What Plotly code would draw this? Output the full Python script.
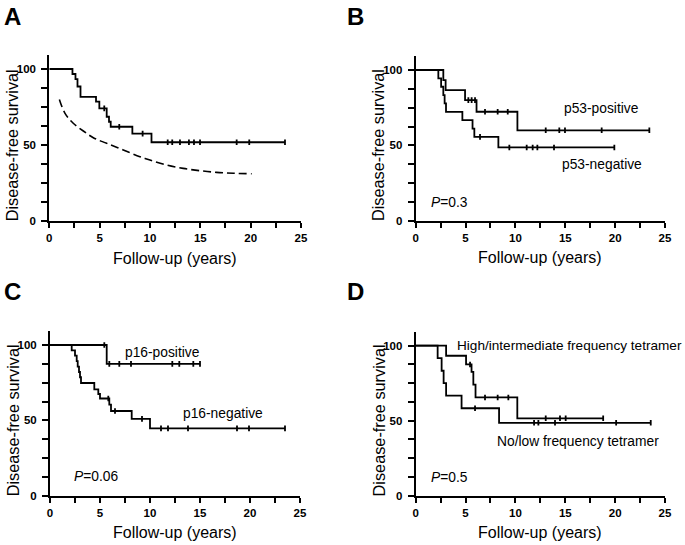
import plotly.graph_objects as go

W, H = 685, 545

# ---------------- data ----------------
# Panel A: overall disease-free survival
A_event_t = [2.3, 2.6, 2.8, 3.1, 4.64, 4.97, 5.7, 5.93, 6.1, 8.25, 10.15]
A_event_s = [96.7, 93.3, 88.5, 81.7, 78.5, 74.1, 68.6, 65.3, 62.0, 57.5, 51.8]
A_cens_t = [5.46, 6.95, 9.27, 11.76, 12.21, 12.98, 13.87, 14.37, 14.97, 18.61, 19.86, 23.41]
A_ref_t = [1.0, 1.56, 2.38, 3.38, 4.37, 5.7, 7.35, 9.0, 10.0, 11.66, 13.3, 14.97, 16.6, 18.3, 20.1]
A_ref_s = [80.0, 70.8, 64.3, 59.2, 54.8, 51.1, 46.7, 42.3, 40.1, 36.8, 34.6, 33.1, 32.0, 31.4, 31.1]

# Panel B: p53
B_pos_t = [2.77, 3.0, 4.95, 6.1, 10.2]
B_pos_s = [93.3, 86.7, 80.0, 72.3, 60.0]
B_pos_c = [5.28, 5.61, 5.95, 6.95, 8.22, 9.23, 13.04, 14.4, 14.97, 18.65, 23.43]
B_neg_t = [2.27, 2.55, 2.77, 2.9, 3.04, 4.68, 5.7, 5.88, 8.29]
B_neg_s = [94.4, 88.9, 83.3, 77.8, 72.2, 66.7, 61.1, 55.6, 48.6]
B_neg_c = [6.45, 9.39, 11.13, 11.73, 12.2, 13.87, 19.92]

# Panel C: p16
C_pos_t = [5.67]
C_pos_s = [87.5]
C_pos_c = [5.43, 5.93, 6.93, 8.1, 12.23, 12.93, 14.33, 15.0]
C_neg_t = [2.17, 2.5, 2.67, 2.77, 2.9, 3.0, 3.1, 4.43, 4.83, 5.0, 5.93, 6.1, 8.17, 10.0]
C_neg_s = [96.4, 92.9, 89.3, 85.7, 82.1, 78.6, 74.8, 70.5, 67.5, 64.5, 60.5, 56.2, 51.0, 44.7]
C_neg_c = [5.83, 6.5, 9.2, 11.1, 11.8, 13.8, 18.7, 19.9, 23.5]

# Panel D: tetramer frequency
D_hi_t = [3.05, 5.05, 5.6, 5.78, 6.0, 10.19]
D_hi_s = [93.3, 87.5, 82.5, 74.0, 65.5, 51.6]
D_hi_c = [5.45, 6.95, 8.22, 9.29, 13.04, 14.47, 15.04, 18.8]
D_lo_t = [2.2, 2.6, 2.8, 3.05, 4.6, 8.36]
D_lo_s = [91.7, 83.3, 75.0, 66.7, 58.3, 48.6]
D_lo_c = [5.95, 11.87, 12.3, 13.97, 20.1, 23.57]

x_ticks = [0, 5, 10, 15, 20, 25]
y_ticks = [0, 50, 100]

# ---------------- layout helpers ----------------
FONT = "Liberation Sans, Arial, Helvetica, sans-serif"

# pixel geometry of each panel: x of 0 yr, x of 25 yr, y of 0 %, px per %
panels = {
    "A": dict(x0=49.3, x25=301.0, y0=221.0, k=1.52),
    "B": dict(x0=415.7, x25=665.0, y0=220.7, k=1.507),
    "C": dict(x0=50.0, x25=300.0, y0=495.7, k=1.507),
    "D": dict(x0=415.7, x25=665.0, y0=495.7, k=1.50),
}
YMAX = 109


def px(x):
    return x / W


def py(y):
    return (H - y) / H


fig = go.Figure()


def km(t, s, c):
    xs = [0] + list(t)
    ys = [100] + list(s)
    end = max(list(t) + list(c))
    xs.append(end)
    ys.append(ys[-1])

    def surv(at):
        v = 100
        for tt, ss in zip(t, s):
            if tt <= at:
                v = ss
        return v

    cy = [surv(ct) for ct in c]
    return xs, ys, list(c), cy


def add_km(t, s, c, xa, ya):
    xs, ys, cx, cy = km(t, s, c)
    fig.add_trace(go.Scatter(x=xs, y=ys, mode="lines", line=dict(color="black", width=1.8, shape="hv"),
                             xaxis=xa, yaxis=ya, showlegend=False, hoverinfo="skip"))
    fig.add_trace(go.Scatter(x=cx, y=cy, mode="markers",
                             marker=dict(symbol="line-ns", size=4, line=dict(color="black", width=1.8)),
                             xaxis=xa, yaxis=ya, showlegend=False, hoverinfo="skip"))


names = ["A", "B", "C", "D"]
axis_common = dict(showline=True, linewidth=2, linecolor="black", showgrid=False, zeroline=False,
                   automargin=False, fixedrange=True,
                   ticks="outside", ticklen=5, tickwidth=2, tickcolor="black",
                   tickfont=dict(family=FONT, size=11.5, color="black", weight="bold"))
layout = {}
for i, n in enumerate(names):
    p = panels[n]
    sfx = "" if i == 0 else str(i + 1)
    top = p["y0"] - YMAX * p["k"]
    layout["xaxis" + sfx] = dict(axis_common, domain=[px(p["x0"]), px(p["x25"])], range=[0, 25],
                                 anchor="y" + sfx, tickvals=x_ticks,
                                 minor=dict(dtick=2.5, ticks="outside", ticklen=5, tickwidth=2, tickcolor="black"))
    layout["yaxis" + sfx] = dict(axis_common, domain=[py(p["y0"]), py(top)], range=[0, YMAX],
                                 anchor="x" + sfx, tickvals=y_ticks, ticklen=6, ticklabelstandoff=3,
                                 minor=dict(tickvals=[12.5, 25, 37.5, 62.5, 75, 87.5], ticks="outside",
                                            ticklen=6, tickwidth=2, tickcolor="black"))

# traces
add_km(A_event_t, A_event_s, A_cens_t, "x", "y")
fig.add_trace(go.Scatter(x=A_ref_t, y=A_ref_s, mode="lines",
                         line=dict(color="black", width=1.6, dash="8px,4px", shape="spline"),
                         xaxis="x", yaxis="y", showlegend=False, hoverinfo="skip"))
add_km(B_pos_t, B_pos_s, B_pos_c, "x2", "y2")
add_km(B_neg_t, B_neg_s, B_neg_c, "x2", "y2")
add_km(C_pos_t, C_pos_s, C_pos_c, "x3", "y3")
add_km(C_neg_t, C_neg_s, C_neg_c, "x3", "y3")
add_km(D_hi_t, D_hi_s, D_hi_c, "x4", "y4")
add_km(D_lo_t, D_lo_s, D_lo_c, "x4", "y4")

ann = []


def text(x, y, s, size=13.8, xanchor="left", yanchor="middle", bold=False, angle=0):
    ann.append(dict(x=px(x), y=py(y), xref="paper", yref="paper", text=s, showarrow=False,
                    xanchor=xanchor, yanchor=yanchor, textangle=angle,
                    font=dict(family=FONT, size=size, color="black", weight="bold" if bold else "normal")))


# panel letters, axis titles
letter_pos = {"A": (2, 16), "B": (345, 16), "C": (2, 291), "D": (345, 291)}
for n in names:
    p = panels[n]
    lx, ly = letter_pos[n]
    text(lx, ly, n, size=24, bold=True)
    text((p["x0"] + p["x25"]) / 2, p["y0"] + 37, "Follow-up (years)", size=16, xanchor="center")
    text(p["x0"] - 37, p["y0"] - 50 * p["k"], "Disease-free survival", size=16.3, xanchor="center", angle=-90)

# in-panel labels
text(562, 109, "p53-positive")
text(560, 165, "p53-negative")
text(429, 203, "<i>P</i>=0.3")
text(122.7, 352, "p16-positive")
text(180.7, 414, "p16-negative")
text(72, 476, "<i>P</i>=0.06")
text(455, 345, "High/intermediate frequency tetramer", size=13.6)
text(495, 442, "No/low frequency tetramer")
text(429.3, 477, "<i>P</i>=0.5")

fig.update_layout(width=W, height=H, margin=dict(l=0, r=0, t=0, b=0, autoexpand=False),
                  paper_bgcolor="white", plot_bgcolor="white", annotations=ann, **layout)

fig.write_html("out.html", config={"displayModeBar": False},
               post_script="document.body.style.margin='0';document.body.style.padding='0';")
